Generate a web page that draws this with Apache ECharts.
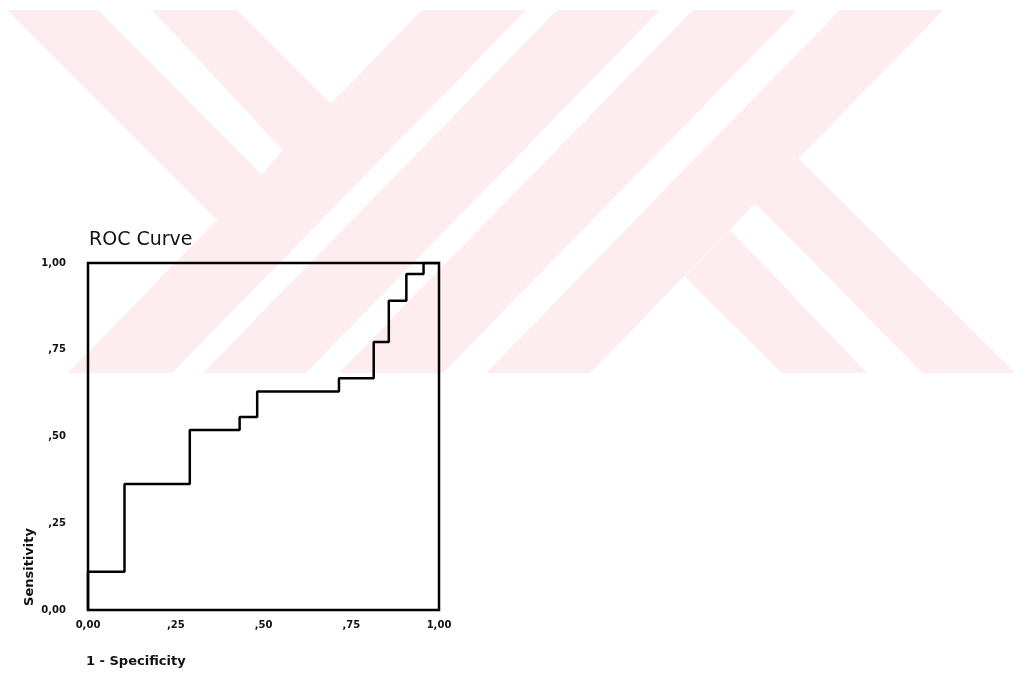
<!DOCTYPE html>
<html>
<head>
<meta charset="utf-8">
<title>ROC Curve</title>
<script src="https://cdn.jsdelivr.net/npm/echarts@6.0.0/dist/echarts.min.js"></script>
<style>
    html, body { margin: 0; padding: 0; background: #fff; }
    #main { width: 1017px; height: 674px; }
</style>
</head>
<body>
<div id="main"></div>
<script>
// ROC 曲线数据（1 - 特异度 / 灵敏度），阶梯点
const fprList = [0, 0, 0.104, 0.29, 0.432, 0.482, 0.715, 0.814, 0.857, 0.907, 0.956, 1.0];
const tprList = [0, 0.11, 0.363, 0.519, 0.556, 0.63, 0.668, 0.772, 0.891, 0.968, 1.0, 1.0];
const tickValues = [0, 0.25, 0.5, 0.75, 1];
const tickLabels = ['0,00', ',25', ',50', ',75', '1,00'];

// 背景水印（装饰图形，非数据）
const watermarkShapes = [
    [[7,10],[98,10],[262,175],[283,150],[152,10],[237,10],[383,156],[270,273]],
    [[422,10],[526,10],[172,373],[68,373]],
    [[557,10],[660,10],[306,373],[203,373]],
    [[693,10],[797,10],[443,373],[339,373]],
    [[840,10],[943,10],[590,373],[486,373]],
    [[798,158],[1015,373],[923,373],[755,203],[730,230],[867,373],[782,373],[685,277]]
];

function tickText(value) {
    let idx = tickValues.indexOf(Math.round(value * 100) / 100);
    return idx >= 0 ? tickLabels[idx] : '';
}

let myChart = echarts.init(document.getElementById('main'));
let rocData = fprList.map((x, i) => [x, tprList[i]]);

let graphics = watermarkShapes.map(points => ({
    type: 'polygon',
    z: -10,
    silent: true,
    shape: { points: points },
    style: { fill: '#fdedf0' }
}));
graphics.push({
    type: 'text',
    z: 10,
    x: 30,
    y: 567,
    rotation: Math.PI / 2,
    style: {
        text: 'Sensitivity',
        font: 'bold 13px "DejaVu Sans"',
        fill: '#111',
        align: 'center',
        verticalAlign: 'middle'
    }
});
graphics.push({
    type: 'text',
    z: 10,
    x: 86,
    y: 662,
    style: {
        text: '1 - Specificity',
        font: 'bold 13px "DejaVu Sans"',
        fill: '#111',
        align: 'left',
        verticalAlign: 'middle'
    }
});

let option = {
    animation: false,
    backgroundColor: '#fff',
    title: {
        text: 'ROC Curve',
        left: 84,
        top: 226,
        textStyle: {
            fontFamily: 'DejaVu Sans',
            fontSize: 19,
            fontWeight: 'normal',
            color: '#111'
        }
    },
    graphic: graphics,
    grid: {
        left: 88,
        right: 578,
        top: 263,
        bottom: 64,
        show: true,
        borderColor: '#000',
        borderWidth: 2.5,
        backgroundColor: 'transparent'
    },
    xAxis: {
        type: 'value',
        min: 0,
        max: 1,
        interval: 0.25,
        axisLine: { show: false },
        axisTick: { show: false },
        splitLine: { show: false },
        axisLabel: {
            margin: 10,
            fontFamily: 'DejaVu Sans',
            fontSize: 10,
            fontWeight: 'bold',
            color: '#111',
            formatter: tickText
        }
    },
    yAxis: {
        type: 'value',
        min: 0,
        max: 1,
        interval: 0.25,
        axisLine: { show: false },
        axisTick: { show: false },
        splitLine: { show: false },
        axisLabel: {
            margin: 22,
            fontFamily: 'DejaVu Sans',
            fontSize: 10,
            fontWeight: 'bold',
            color: '#111',
            formatter: tickText
        }
    },
    series: [{
        type: 'line',
        step: 'end',
        data: rocData,
        symbol: 'none',
        lineStyle: { color: '#000', width: 2.5 },
        z: 5
    }]
};
myChart.setOption(option);
</script>
</body>
</html>
